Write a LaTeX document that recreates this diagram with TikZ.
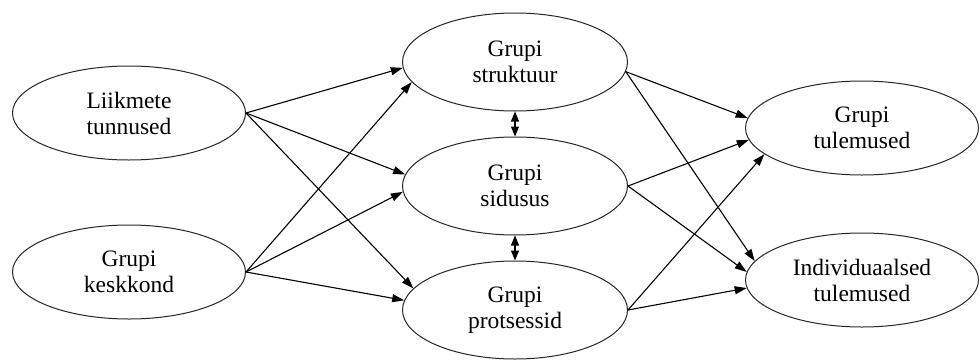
\documentclass[tikz,border=0pt]{standalone}
\usepackage{fontspec}
\setmainfont{Liberation Serif}
\usetikzlibrary{arrows.meta,positioning,shapes.geometric}

\begin{document}
\begin{tikzpicture}[x=1pt,y=1pt,node distance=25pt,
    factor/.style={draw=black!85,ellipse,line width=1pt,align=center,
      minimum width=233pt,minimum height=94pt,inner sep=1pt,
      font=\fontsize{23.5}{26}\selectfont},
    midfactor/.style={factor,minimum width=225pt,minimum height=98pt},
    link/.style={line width=1.1pt,-{Triangle[length=12pt,width=8pt]}},
    mutual/.style={line width=1.1pt,
      {Triangle[length=10pt,width=8pt]}-{Triangle[length=10pt,width=8pt]}}]
  \useasboundingbox (0,0) rectangle (979,360);
  % inputs
  \node[factor] (traits) at (129,247) {Liikmete\\tunnused};
  \node[factor] (env) at (129,88) {Grupi\\keskkond};
  % group factors
  \node[midfactor] (cohesion) at (515,174) {Grupi\\sidusus};
  \node[midfactor,above=of cohesion] (structure) {Grupi\\struktuur};
  \node[midfactor,below=of cohesion] (process) {Grupi\\protsessid};
  % outcomes
  \node[factor] (groupout) at (862,232) {Grupi\\tulemused};
  \node[factor] (indivout) at (862,80) {Individuaalsed\\tulemused};

  \draw[link] (traits.east) -- (structure.183);
  \draw[link] (traits.east) -- (cohesion.174);
  \draw[link] (traits.east) -- (process.168);
  \draw[link] (env.east) -- (structure.191);
  \draw[link] (env.east) -- (cohesion.183);
  \draw[link] (env.east) -- (process.175);

  \draw[mutual] (structure) -- (cohesion);
  \draw[mutual] (cohesion) -- (process);

  \draw[link] (structure.-5) -- (groupout.175);
  \draw[link] (structure.-5) -- (indivout.170);
  \draw[link] (cohesion.east) -- (groupout.186);
  \draw[link] (cohesion.east) -- (indivout.176);
  \draw[link] (process.east) -- (groupout.195);
  \draw[link] (process.east) -- (indivout.184);
\end{tikzpicture}
\end{document}
